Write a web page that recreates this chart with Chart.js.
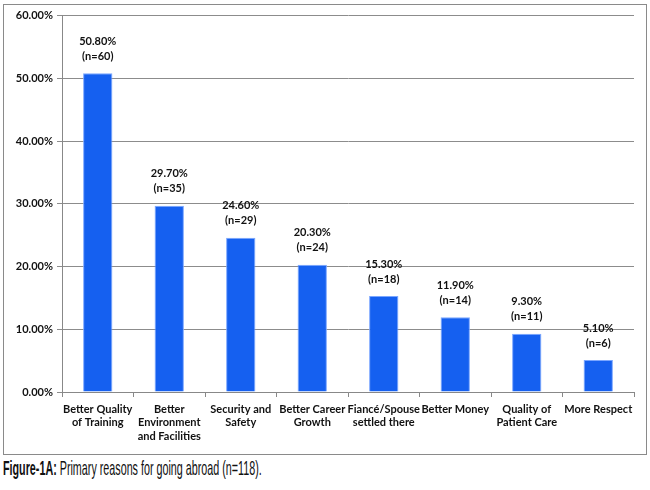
<!DOCTYPE html>
<html>
<head>
<meta charset="utf-8">
<script src="https://cdn.jsdelivr.net/npm/chart.js@4/dist/chart.umd.min.js"></script>
<style>
  body { margin: 0; background: #fff; }
  #box {
    position: absolute; left: 3px; top: 4px; width: 642px; height: 449px;
    border: 1.5px solid #8a8a8a;
  }
  #caption {
    position: absolute; left: 3px; top: 456px; white-space: nowrap;
    font-family: "Liberation Sans", sans-serif;
    font-size: 21px; color: #111; transform-origin: left top;
  }
</style>
</head>
<body>
<div id="box"><canvas id="chart"></canvas></div>
<div id="caption"><b>Figure-1A:</b> Primary reasons for going abroad (n=118).</div>
<script>
// reasons
const categories = [
    ["Better Quality", "of Training"],
    ["Better", "Environment", "and Facilities"],
    ["Security and", "Safety"],
    ["Better Career", "Growth"],
    ["Fiancé/Spouse", "settled there"],
    "Better Money",
    ["Quality of", "Patient Care"],
    "More Respect"
];
const percents = [50.8, 29.7, 24.6, 20.3, 15.3, 11.9, 9.3, 5.1];
const counts = [60, 35, 29, 24, 18, 14, 11, 6];
const yTicks = [0, 10, 20, 30, 40, 50, 60];

// condensed look for the caption
const cap = document.getElementById('caption');
cap.style.transform = 'scaleX(' + (259 / cap.offsetWidth) + ')';

const tickFont = { family: "Lato, 'Liberation Sans', sans-serif", size: 11, weight: 'bold' };

// labels above the bars
const barLabels = {
    id: 'barLabels',
    afterDatasetsDraw(chart) {
        const ctx = chart.ctx;
        const meta = chart.getDatasetMeta(0);
        ctx.save();
        ctx.font = "bold 11px Lato, 'Liberation Sans', sans-serif";
        ctx.fillStyle = '#111';
        ctx.textAlign = 'center';
        ctx.textBaseline = 'middle';
        meta.data.forEach((bar, i) => {
            ctx.fillText(percents[i].toFixed(2) + '%', bar.x, bar.y - 32);
            ctx.fillText('(n=' + counts[i] + ')', bar.x, bar.y - 17);
        });
        ctx.restore();
    }
};

new Chart(document.getElementById('chart'), {
    type: 'bar',
    data: {
        labels: categories,
        datasets: [{
            data: percents,
            backgroundColor: '#1560f0',
            borderColor: '#7aa6ff',
            borderWidth: 1,
            barPercentage: 0.41,
            categoryPercentage: 1.0
        }]
    },
    options: {
        responsive: true,
        maintainAspectRatio: false,
        animation: false,
        layout: { padding: { top: 7, right: 12, bottom: 0, left: 0 } },
        plugins: {
            legend: { display: false },
            tooltip: { enabled: false }
        },
        scales: {
            x: {
                grid: { display: true, drawOnChartArea: false, color: '#888', tickLength: 5, offset: true },
                border: { color: '#888', width: 1 },
                ticks: { font: tickFont, color: '#111', maxRotation: 0, autoSkip: false, padding: 6 },
                afterFit(scale) { scale.height = 62; }
            },
            y: {
                min: 0,
                max: 60,
                afterBuildTicks(scale) { scale.ticks = yTicks.map(v => ({ value: v })); },
                grid: { color: '#8c8c8c', lineWidth: 1, tickLength: 5 },
                border: { color: '#888', width: 1 },
                ticks: {
                    font: tickFont, color: '#111', padding: 4,
                    callback: v => v.toFixed(2) + '%'
                },
                afterFit(scale) { scale.width = 58; }
            }
        }
    },
    plugins: [barLabels]
});
</script>
</body>
</html>
